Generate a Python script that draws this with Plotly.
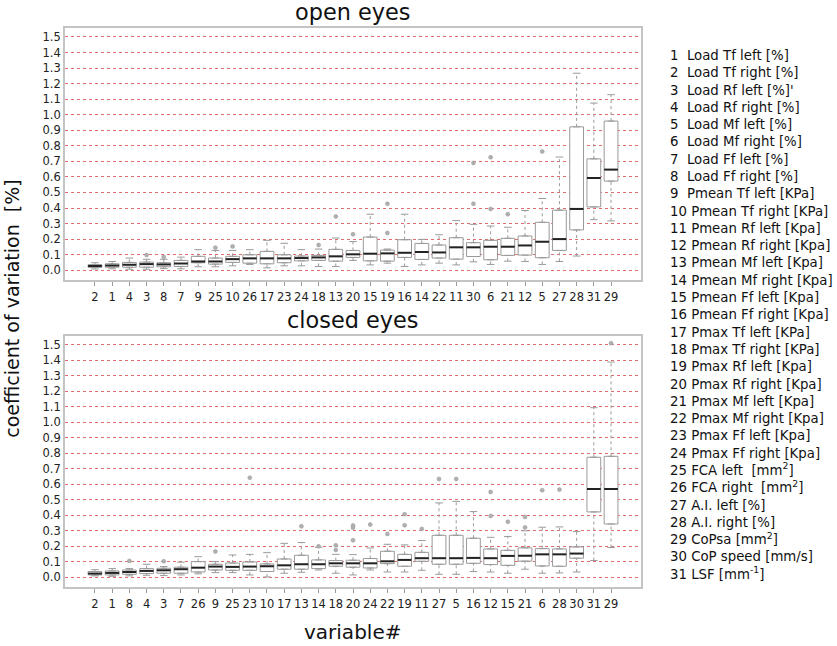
import plotly.graph_objects as go
from plotly.subplots import make_subplots

# Olhos abertos (open eyes): ordem no eixo x e estatisticas dos boxplots
ordem_ab = [2, 1, 4, 3, 8, 7, 9, 25, 10, 26, 17, 23, 24, 18, 13, 20, 15, 19, 16, 14, 22, 11, 30, 6, 21, 12, 5, 27, 28, 31, 29]
lw_ab = [0.008, 0.009, 0.006, 0.006, 0.010, 0.009, 0.022, 0.022, 0.028, 0.037, 0.015, 0.028, 0.028, 0.024, 0.024, 0.063,
         0.034, 0.045, 0.024, 0.034, 0.045, 0.034, 0.054, 0.037, 0.058, 0.056, 0.037, 0.056, 0.091, 0.325, 0.317]
q1_ab = [0.018, 0.019, 0.019, 0.019, 0.022, 0.024, 0.048, 0.039, 0.050, 0.045, 0.041, 0.048, 0.060, 0.063, 0.058, 0.082,
         0.060, 0.058, 0.082, 0.069, 0.078, 0.071, 0.088, 0.067, 0.095, 0.097, 0.080, 0.127, 0.259, 0.407, 0.573]
med_ab = [0.027, 0.030, 0.035, 0.039, 0.037, 0.043, 0.056, 0.056, 0.071, 0.076, 0.076, 0.076, 0.078, 0.082, 0.089, 0.102,
          0.106, 0.108, 0.112, 0.117, 0.114, 0.147, 0.147, 0.151, 0.151, 0.159, 0.183, 0.200, 0.394, 0.593, 0.647]
q3_ab = [0.036, 0.041, 0.050, 0.052, 0.048, 0.063, 0.089, 0.078, 0.089, 0.099, 0.121, 0.099, 0.091, 0.095, 0.134, 0.127,
         0.213, 0.129, 0.196, 0.172, 0.162, 0.209, 0.177, 0.192, 0.205, 0.220, 0.308, 0.386, 0.922, 0.716, 0.959]
uw_ab = [0.048, 0.056, 0.078, 0.070, 0.070, 0.084, 0.132, 0.127, 0.127, 0.132, 0.192, 0.173, 0.132, 0.136, 0.207, 0.184,
         0.360, 0.136, 0.360, 0.198, 0.228, 0.319, 0.295, 0.284, 0.276, 0.384, 0.461, 0.728, 1.267, 1.075, 1.129]
out_var_ab = [3, 8, 25, 10, 18, 13, 20, 19, 19, 30, 30, 6, 6, 21, 5]
out_val_ab = [0.097, 0.085, 0.145, 0.153, 0.162, 0.346, 0.231, 0.427, 0.239, 0.427, 0.690, 0.394, 0.726, 0.360, 0.763]

# Olhos fechados (closed eyes)
ordem_fe = [2, 1, 8, 4, 3, 7, 26, 9, 25, 23, 10, 17, 13, 14, 18, 20, 24, 22, 19, 11, 27, 5, 16, 12, 15, 21, 6, 28, 30, 31, 29]
lw_fe = [0.009, 0.006, 0.009, 0.013, 0.011, 0.015, 0.022, 0.030, 0.030, 0.015, 0.002, 0.026, 0.032, 0.047, 0.026, 0.015,
         0.047, 0.034, 0.034, 0.045, 0.019, 0.019, 0.037, 0.034, 0.026, 0.052, 0.026, 0.028, 0.034, 0.108, 0.192]
q1_fe = [0.015, 0.015, 0.019, 0.024, 0.026, 0.026, 0.034, 0.047, 0.045, 0.045, 0.037, 0.052, 0.052, 0.056, 0.071, 0.065,
         0.060, 0.088, 0.071, 0.103, 0.084, 0.084, 0.090, 0.082, 0.077, 0.104, 0.073, 0.071, 0.123, 0.422, 0.344]
med_fe = [0.024, 0.028, 0.034, 0.041, 0.045, 0.052, 0.062, 0.069, 0.067, 0.069, 0.071, 0.077, 0.084, 0.084, 0.090, 0.090,
          0.090, 0.103, 0.112, 0.123, 0.123, 0.123, 0.125, 0.123, 0.138, 0.139, 0.148, 0.148, 0.153, 0.570, 0.570]
q3_fe = [0.037, 0.041, 0.047, 0.056, 0.058, 0.065, 0.101, 0.084, 0.092, 0.099, 0.086, 0.118, 0.142, 0.112, 0.108, 0.110,
         0.121, 0.168, 0.148, 0.161, 0.271, 0.271, 0.252, 0.183, 0.174, 0.190, 0.185, 0.183, 0.196, 0.775, 0.781]
uw_fe = [0.049, 0.056, 0.056, 0.084, 0.069, 0.097, 0.133, 0.101, 0.144, 0.148, 0.159, 0.219, 0.224, 0.194, 0.148, 0.146,
         0.189, 0.213, 0.209, 0.237, 0.480, 0.490, 0.424, 0.258, 0.263, 0.300, 0.323, 0.325, 0.295, 1.095, 1.390]
out_var_fe = [8, 3, 9, 23, 13, 14, 18, 18, 20, 20, 20, 24, 22, 19, 19, 11, 27, 5, 12, 12, 15, 21, 21, 6, 28, 29]
out_val_fe = [0.105, 0.103, 0.166, 0.643, 0.329, 0.200, 0.206, 0.176, 0.335, 0.320, 0.239, 0.340, 0.280, 0.336, 0.407,
              0.312, 0.635, 0.635, 0.396, 0.551, 0.359, 0.322, 0.389, 0.562, 0.566, 1.511]

nomes = ["Load Tf left [%]", "Load Tf right [%]", "Load Rf left [%]'", "Load Rf right [%]",
         "Load Mf left [%]", "Load Mf right [%]", "Load Ff left [%]", "Load Ff right [%]",
         "Pmean Tf left [KPa]", "Pmean Tf right [KPa]", "Pmean Rf left [Kpa]", "Pmean Rf right [Kpa]",
         "Pmean Mf left [Kpa]", "Pmean Mf right [Kpa]", "Pmean Ff left [Kpa]", "Pmean Ff right [Kpa]",
         "Pmax Tf left [KPa]", "Pmax Tf right [KPa]", "Pmax Rf left [Kpa]", "Pmax Rf right [Kpa]",
         "Pmax Mf left [Kpa]", "Pmax Mf right [Kpa]", "Pmax Ff left [Kpa]", "Pmax Ff right [Kpa]",
         "FCA left\u00a0\u00a0[mm<sup>2</sup>]", "FCA right\u00a0\u00a0[mm<sup>2</sup>]", "A.I. left [%]", "A.I. right [%]",
         "CoPsa [mm<sup>2</sup>]", "CoP speed [mm/s]", "LSF [mm<sup>-1</sup>]"]

cinza = '#9a9a9a'
fig = make_subplots(rows=2, cols=1)


def painel(row, ordem, lw, q1, med, q3, uw, out_var, out_val):
    pos = list(range(len(ordem)))
    fig.add_trace(go.Box(x=pos, q1=q1, median=med, q3=q3, lowerfence=q1, upperfence=q3, width=0.8,
                         fillcolor='white', line=dict(color=cinza, width=1), hoverinfo='skip', showlegend=False),
                  row=row, col=1)
    # bigodes pontilhados
    wx, wy = [], []
    for p, a, b, c, d in zip(pos, lw, q1, q3, uw):
        wx += [p, p, None, p, p, None]
        wy += [a, b, None, c, d, None]
    fig.add_trace(go.Scatter(x=wx, y=wy, mode='lines', line=dict(color=cinza, width=1, dash='dot'),
                             hoverinfo='skip', showlegend=False), row=row, col=1)
    # tampas
    cx, cy = [], []
    for p, a, d in zip(pos, lw, uw):
        cx += [p - 0.22, p + 0.22, None, p - 0.22, p + 0.22, None]
        cy += [a, a, None, d, d, None]
    fig.add_trace(go.Scatter(x=cx, y=cy, mode='lines', line=dict(color=cinza, width=1),
                             hoverinfo='skip', showlegend=False), row=row, col=1)
    # mediana
    mx, my = [], []
    for p, m in zip(pos, med):
        mx += [p - 0.4, p + 0.4, None]
        my += [m, m, None]
    fig.add_trace(go.Scatter(x=mx, y=my, mode='lines', line=dict(color='#222222', width=2),
                             hoverinfo='skip', showlegend=False), row=row, col=1)
    # outliers
    ox = [ordem.index(v) for v in out_var]
    fig.add_trace(go.Scatter(x=ox, y=out_val, mode='markers', marker=dict(size=4, color='#b0b0b0',
                             line=dict(color='#999999', width=0.5)), hoverinfo='skip', showlegend=False),
                  row=row, col=1)
    fig.update_xaxes(range=[-1.74, 31.74], tickvals=pos, ticktext=[str(v) for v in ordem], tickangle=0,
                     ticks='outside', ticklen=4, tickcolor=cinza, showgrid=False, zeroline=False,
                     showline=True, mirror=True, linecolor='#c4c4c4', linewidth=2, automargin=False,
                     ticklabelstandoff=1, tickfont=dict(size=11.5, color='#222222'), row=row, col=1)
    fig.update_yaxes(range=[-0.063, 1.558], tick0=0, dtick=0.1, tickformat='.1f', ticks='',
                     showgrid=True, gridcolor='rgba(214,60,60,0.75)', griddash='dot', gridwidth=1,
                     zeroline=False, showline=True, mirror=True, linecolor='#c4c4c4', linewidth=2,
                     automargin=False, tickfont=dict(size=11.5, color='#222222'), row=row, col=1)


painel(1, ordem_ab, lw_ab, q1_ab, med_ab, q3_ab, uw_ab, out_var_ab, out_val_ab)
painel(2, ordem_fe, lw_fe, q1_fe, med_fe, q3_fe, uw_fe, out_var_fe, out_val_fe)

fig.update_layout(xaxis=dict(domain=[0.0777, 0.7658]), xaxis2=dict(domain=[0.0777, 0.7658]),
                  yaxis=dict(domain=[0.5666, 0.9567]), yaxis2=dict(domain=[0.0913, 0.4799]))

legenda = '<br>'.join((str(i + 1) + ('\u00a0\u00a0' if i < 9 else ' ') + n) for i, n in enumerate(nomes))

fig.update_layout(
    width=837, height=646, margin=dict(l=0, r=0, t=0, b=0, autoexpand=False),
    plot_bgcolor='white', paper_bgcolor='white',
    font=dict(family='DejaVu Sans', color='#111111'),
    annotations=[
        dict(text='open eyes', x=0.4217, y=0.982, xref='paper', yref='paper', xanchor='center',
             yanchor='middle', showarrow=False, font=dict(size=22.4)),
        dict(text='closed eyes', x=0.4217, y=0.505, xref='paper', yref='paper', xanchor='center',
             yanchor='middle', showarrow=False, font=dict(size=22.4)),
        dict(text='coefficient of variation\u00a0\u00a0[%]', x=0.0143, y=0.522, xref='paper', yref='paper',
             xanchor='center', yanchor='middle', showarrow=False, textangle=-90, font=dict(size=19)),
        dict(text='variable#', x=0.4217, y=0.021, xref='paper', yref='paper', xanchor='center',
             yanchor='middle', showarrow=False, font=dict(size=20)),
        dict(text=legenda, x=0.798, y=0.513, xref='paper', yref='paper', xanchor='left', yanchor='middle',
             align='left', showarrow=False, font=dict(size=13.3)),
    ],
)

# sem margem do body, para a figura ocupar a janela toda
fig.write_html("out.html", config={'displayModeBar': False},
               post_script="document.body.style.margin='0';")
